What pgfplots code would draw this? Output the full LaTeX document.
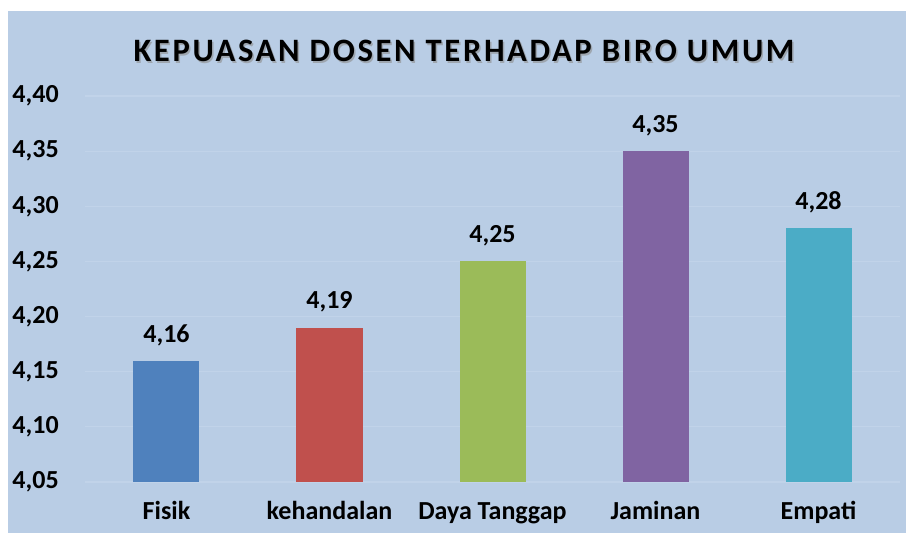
\documentclass[border=0pt]{standalone}
\usepackage{fontspec}
\setmainfont{Carlito}
\newfontfamily\titlefont[LetterSpace=8]{Carlito}
\usepackage{pgfplots}
\pgfplotsset{compat=1.18}
\definecolor{bg}{HTML}{B9CDE5}
\definecolor{gridc}{HTML}{C1D3E9}
\definecolor{c1}{HTML}{4F81BD}
\definecolor{c2}{HTML}{C0504D}
\definecolor{c3}{HTML}{9BBB59}
\definecolor{c4}{HTML}{8064A2}
\definecolor{c5}{HTML}{4BACC6}
\begin{document}
\begin{tikzpicture}[x=0.75pt,y=0.75pt]
% background panel (px units: axis at px 85..900, 96..482)
\fill[white] (-85,-51) rectangle (821,482);
\fill[bg] (-77,-51) rectangle (821,471);
\begin{axis}[
  at={(0,0)}, anchor=south west, scale only axis,
  width=611.25pt, height=289.5pt,
  ybar, bar width=49.5pt, bar shift=0pt,
  xmin=-0.5, xmax=4.5, ymin=4.05, ymax=4.40,
  xtick={0,1,2,3,4},
  xticklabels={Fisik,kehandalan,Daya Tanggap,Jaminan,Empati},
  ytick={4.05,4.10,...,4.41},
  /pgf/number format/fixed, /pgf/number format/fixed zerofill,
  /pgf/number format/precision=2, /pgf/number format/use comma,
  /pgf/number format/assume math mode=true,
  axis line style={draw=none}, major tick length=0pt,
  ymajorgrids, major grid style={gridc, line width=0.8pt},
  tick label style={font=\fontsize{19.5}{20}\selectfont\bfseries},
  yticklabel style={inner sep=0pt, anchor=east, xshift=-19.5pt},
  xticklabel style={inner sep=0pt, anchor=base, yshift=-28pt},
  nodes near coords,
  nodes near coords style={font=\fontsize{19.5}{20}\selectfont\bfseries, inner sep=0pt, anchor=base, yshift=14pt},
  clip=false,
]
\addplot[fill=c1, draw=none] coordinates {(0,4.16)};
\addplot[fill=c2, draw=none] coordinates {(1,4.19)};
\addplot[fill=c3, draw=none] coordinates {(2,4.25)};
\addplot[fill=c4, draw=none] coordinates {(3,4.35)};
\addplot[fill=c5, draw=none] coordinates {(4,4.28)};
\end{axis}
\node[anchor=base, text=black!45, opacity=0.6, font=\titlefont\fontsize{24.5}{26}\selectfont\bfseries] at (380.5,418.5) {KEPUASAN DOSEN TERHADAP BIRO UMUM};
\node[anchor=base, font=\titlefont\fontsize{24.5}{26}\selectfont\bfseries] at (379,420) {KEPUASAN DOSEN TERHADAP BIRO UMUM};
\end{tikzpicture}
\end{document}
